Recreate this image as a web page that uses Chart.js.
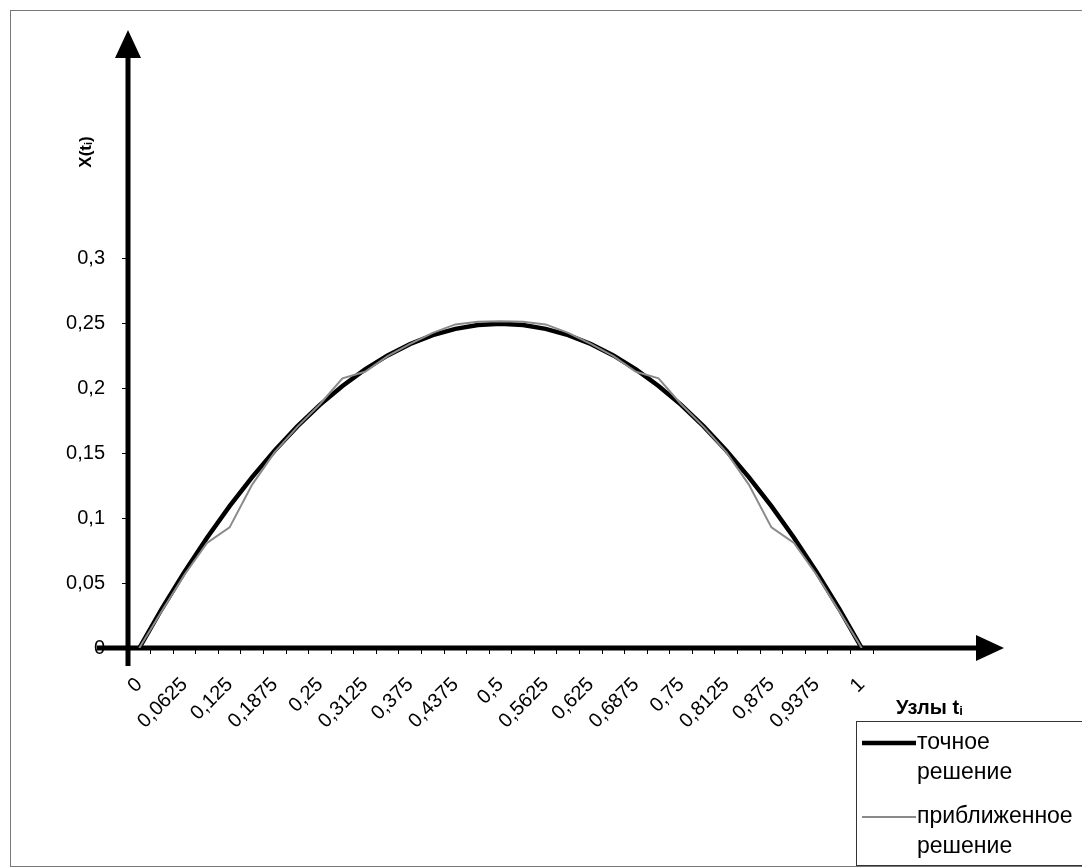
<!DOCTYPE html>
<html>
<head>
<meta charset="utf-8">
<script src="https://cdn.jsdelivr.net/npm/chart.js@4.4.0/dist/chart.umd.min.js"></script>
<style>
  html, body { margin: 0; padding: 0; background: #fff; }
  #wrap { width: 1082px; height: 868px; position: relative; }
</style>
</head>
<body>
<div id="wrap"><canvas id="c" width="1082" height="868"></canvas></div>
<script>
// Nodes t_i (33 nodes, step 1/32); every second one is labelled
const categories = ['0','0,03125','0,0625','0,09375','0,125','0,15625','0,1875','0,21875','0,25','0,28125','0,3125','0,34375','0,375','0,40625','0,4375','0,46875','0,5','0,53125','0,5625','0,59375','0,625','0,65625','0,6875','0,71875','0,75','0,78125','0,8125','0,84375','0,875','0,90625','0,9375','0,96875','1'];
// exact solution
const exactValues = [0,0.0303,0.0586,0.0850,0.1094,0.1318,0.1523,0.1709,0.1875,0.2021,0.2148,0.2256,0.2344,0.2412,0.2461,0.2490,0.2500,0.2490,0.2461,0.2412,0.2344,0.2256,0.2148,0.2021,0.1875,0.1709,0.1523,0.1318,0.1094,0.0850,0.0586,0.0303,0];
// approximate solution
const approxValues = [0,0.0285,0.0565,0.0810,0.0930,0.1260,0.1510,0.1705,0.1880,0.2080,0.2130,0.2250,0.2345,0.2430,0.2495,0.2515,0.2520,0.2515,0.2495,0.2430,0.2345,0.2250,0.2130,0.2080,0.1880,0.1705,0.1510,0.1260,0.0930,0.0810,0.0565,0.0285,0];
const yTickValues = [0,0.05,0.1,0.15,0.2,0.25,0.3];
const seriesNames = [['точное','решение'],['приближенное','решение']];

const FONT = '"Liberation Sans", Arial, sans-serif';

const decor = {
  id: 'decor',
  beforeDatasetsDraw(chart) {
    const ctx = chart.ctx;
    const xs = chart.scales.x, ys = chart.scales.y;
    const x0 = xs.left, y0 = ys.getPixelForValue(0);
    ctx.save();
    ctx.strokeStyle = '#777';
    ctx.lineWidth = 1;
    ctx.strokeRect(10.5, 10.5, 1100, 856);
    ctx.fillStyle = '#000';
    ctx.strokeStyle = '#000';
    ctx.lineWidth = 5;
    ctx.beginPath();
    ctx.moveTo(x0, y0 + 18);
    ctx.lineTo(x0, 56);
    ctx.stroke();
    ctx.beginPath();
    ctx.moveTo(x0, 30);
    ctx.lineTo(x0 - 13, 58);
    ctx.lineTo(x0 + 13, 58);
    ctx.closePath();
    ctx.fill();
    ctx.beginPath();
    ctx.moveTo(97, y0);
    ctx.lineTo(978, y0);
    ctx.stroke();
    ctx.beginPath();
    ctx.moveTo(1004, y0);
    ctx.lineTo(976, y0 - 13);
    ctx.lineTo(976, y0 + 13);
    ctx.closePath();
    ctx.fill();
    ctx.restore();
  },
  afterDraw(chart) {
    const ctx = chart.ctx;
    ctx.save();
    ctx.translate(86, 152);
    ctx.rotate(-Math.PI / 2);
    ctx.fillStyle = '#000';
    ctx.textBaseline = 'middle';
    ctx.font = 'bold 17px ' + FONT;
    const a = 'X(t', b = 'i', c = ')';
    const wa = ctx.measureText(a).width;
    ctx.font = 'bold 11px ' + FONT;
    const wb = ctx.measureText(b).width;
    ctx.font = 'bold 17px ' + FONT;
    const wc = ctx.measureText(c).width;
    let sx = -(wa + wb + wc) / 2;
    ctx.fillText(a, sx, 0);
    ctx.font = 'bold 11px ' + FONT;
    ctx.fillText(b, sx + wa, 3);
    ctx.font = 'bold 17px ' + FONT;
    ctx.fillText(c, sx + wa + wb, 0);
    ctx.restore();

    ctx.save();
    ctx.fillStyle = '#000';
    ctx.textBaseline = 'alphabetic';
    ctx.font = 'bold 20px ' + FONT;
    const t1 = 'Узлы t';
    ctx.fillText(t1, 896, 714);
    const w1 = ctx.measureText(t1).width;
    ctx.font = 'bold 13px ' + FONT;
    ctx.fillText('i', 896 + w1, 715);
    ctx.restore();

    ctx.save();
    ctx.strokeStyle = '#333';
    ctx.lineWidth = 1;
    ctx.strokeRect(856.5, 721.5, 240, 144);
    const ds = chart.data.datasets;
    const rows = [743, 817];
    ctx.font = '23px ' + FONT;
    ctx.textBaseline = 'middle';
    ctx.fillStyle = '#000';
    ds.forEach((d, i) => {
      ctx.strokeStyle = d.borderColor;
      ctx.lineWidth = d.borderWidth;
      ctx.beginPath();
      ctx.moveTo(862, rows[i]);
      ctx.lineTo(916, rows[i]);
      ctx.stroke();
      ctx.fillText(seriesNames[i][0], 917, rows[i]);
      ctx.fillText(seriesNames[i][1], 917, rows[i] + 30);
    });
    ctx.restore();
  }
};

new Chart(document.getElementById('c'), {
  type: 'line',
  data: {
    labels: categories,
    datasets: [
      { label: 'точное решение', data: exactValues, borderColor: '#000000', borderWidth: 4.5, pointRadius: 0, tension: 0, fill: false, order: 1 },
      { label: 'приближенное решение', data: approxValues, borderColor: '#8a8a8a', borderWidth: 2, pointRadius: 0, tension: 0, fill: false, order: 0 }
    ]
  },
  options: {
    responsive: false,
    animation: false,
    layout: { padding: { left: 40, right: 209, top: 32, bottom: 120 } },
    plugins: { legend: { display: false }, tooltip: { enabled: false } },
    scales: {
      x: {
        type: 'category',
        offset: true,
        border: { display: false },
        grid: { offset: true, drawOnChartArea: false, drawTicks: true, tickLength: 6, color: '#000', lineWidth: 1 },
        ticks: {
          autoSkip: false,
          maxRotation: 45, minRotation: 45,
          padding: 19,
          color: '#000',
          font: { family: FONT, size: 20 },
          callback: function (v, i) { return i % 2 === 0 ? categories[i] : ''; }
        },
        afterFit(s) { s.height = 100; }
      },
      y: {
        type: 'linear',
        min: 0, max: 0.475,
        border: { display: false },
        grid: { drawOnChartArea: false, drawTicks: true, tickLength: 6, color: '#000', lineWidth: 1 },
        afterBuildTicks(s) { s.ticks = yTickValues.map(v => ({ value: v })); },
        ticks: {
          padding: 17,
          color: '#000',
          font: { family: FONT, size: 20 },
          callback: function (v) { return String(v).replace('.', ','); }
        },
        afterFit(s) { s.width = 88; }
      }
    }
  },
  plugins: [decor]
});
</script>
</body>
</html>
